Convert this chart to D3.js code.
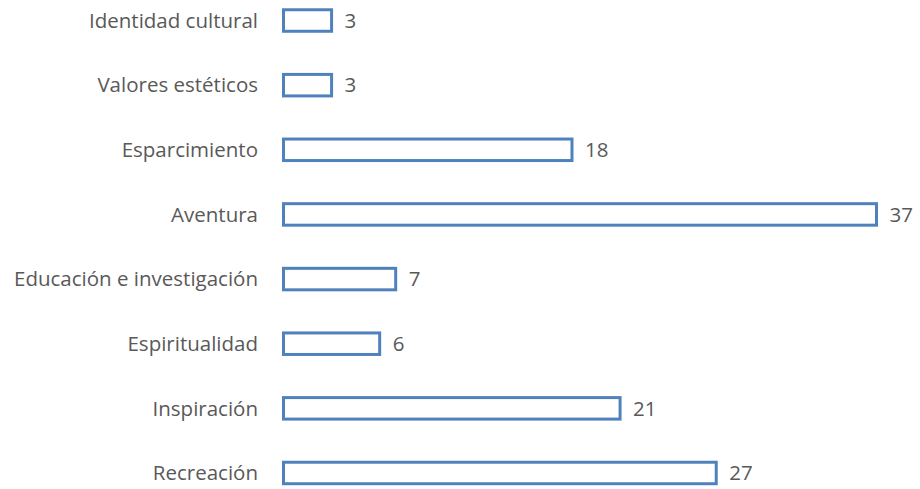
<!DOCTYPE html>
<html>
<head>
<meta charset="utf-8">
<script src="https://cdn.jsdelivr.net/npm/d3@7"></script>
<style>
  body { margin: 0; background: #fff; }
  text { font-family: "Open Sans", sans-serif; fill: #595959; }
</style>
</head>
<body>
<div id="chart-container"></div>
<script>
const categories = ["Identidad cultural", "Valores estéticos", "Esparcimiento", "Aventura",
    "Educación e investigación", "Espiritualidad", "Inspiración", "Recreación"];
const values = [3, 3, 18, 37, 7, 6, 21, 27];

const width = 920, height = 489;
const barColor = "#4F81BD";

const svg = d3.select("#chart-container").append("svg")
    .attr("width", width)
    .attr("height", height);

// x scale: stroke path from 283.5, 37 ends at 876.5
const x = d3.scaleLinear()
    .domain([0, 37])
    .range([283.5, 876.5]);

const y = d3.scaleBand()
    .domain(categories)
    .range([-11.8, 505.3])
    .paddingInner(0.62)
    .paddingOuter(0.31);

const data = categories.map((c, i) => ({cat: c, value: values[i]}));

svg.selectAll(".bar")
    .data(data)
    .enter().append("rect")
    .attr("class", "bar")
    .attr("x", x(0))
    .attr("y", d => y(d.cat) + y.bandwidth() / 2 - 10.75)
    .attr("width", d => x(d.value) - x(0))
    .attr("height", 21.5)
    .attr("fill", "#fff")
    .attr("stroke", barColor)
    .attr("stroke-width", 3);

// category labels
svg.selectAll(".cat-label")
    .data(data)
    .enter().append("text")
    .attr("class", "cat-label")
    .attr("x", 258)
    .attr("y", d => y(d.cat) + y.bandwidth() / 2)
    .attr("dy", "0.35em")
    .attr("text-anchor", "end")
    .style("font-size", "20.5px")
    .text(d => d.cat);

// value labels
svg.selectAll(".val-label")
    .data(data)
    .enter().append("text")
    .attr("class", "val-label")
    .attr("x", d => x(d.value) + 13)
    .attr("y", d => y(d.cat) + y.bandwidth() / 2)
    .attr("dy", "0.35em")
    .style("font-size", "20.5px")
    .text(d => d.value);
</script>
</body>
</html>
